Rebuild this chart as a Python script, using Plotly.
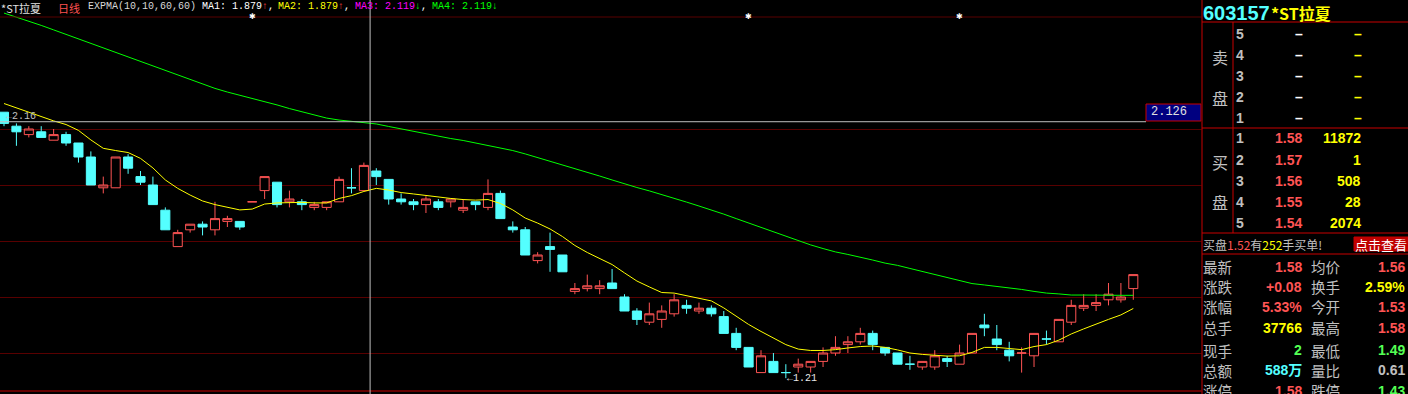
import plotly.graph_objects as go

W, H = 1408, 394

# ---------------- data ----------------
opens = [2.16, 2.11, 2.08, 2.09, 2.06, 2.08, 2.05, 2.00, 1.89, 1.89,
         2.00, 1.93, 1.90, 1.81, 1.68, 1.74, 1.76, 1.74, 1.77, 1.77,
         1.84, 1.88, 1.91, 1.84, 1.84, 1.82, 1.82, 1.84, 1.89, 1.88,
         1.95, 1.92, 1.85, 1.84, 1.83, 1.84, 1.84, 1.81, 1.84, 1.82,
         1.87, 1.75, 1.74, 1.63, 1.68, 1.65, 1.52, 1.53, 1.53, 1.55,
         1.50, 1.45, 1.41, 1.42, 1.44, 1.47, 1.45, 1.46, 1.43, 1.37,
         1.32, 1.23, 1.27, 1.23, 1.25, 1.25, 1.27, 1.30, 1.33, 1.34,
         1.37, 1.32, 1.30, 1.26, 1.25, 1.25, 1.28, 1.26, 1.30, 1.40,
         1.35, 1.31, 1.30, 1.29, 1.35, 1.34, 1.41, 1.46, 1.47, 1.49,
         1.49, 1.53]
highs = [2.16, 2.12, 2.11, 2.11, 2.10, 2.09, 2.05, 2.02, 1.93, 2.00,
         2.01, 1.95, 1.93, 1.82, 1.74, 1.76, 1.77, 1.84, 1.79, 1.77,
         1.84, 1.93, 1.91, 1.88, 1.85, 1.84, 1.84, 1.93, 1.96, 1.98,
         1.96, 1.92, 1.87, 1.85, 1.86, 1.85, 1.85, 1.85, 1.84, 1.92,
         1.88, 1.77, 1.75, 1.66, 1.73, 1.65, 1.55, 1.58, 1.56, 1.60,
         1.51, 1.46, 1.48, 1.47, 1.51, 1.49, 1.48, 1.47, 1.45, 1.39,
         1.32, 1.31, 1.30, 1.26, 1.28, 1.27, 1.32, 1.36, 1.36, 1.39,
         1.38, 1.32, 1.30, 1.29, 1.27, 1.31, 1.29, 1.33, 1.37, 1.44,
         1.40, 1.34, 1.32, 1.37, 1.38, 1.42, 1.49, 1.51, 1.51, 1.55,
         1.55, 1.58]
lows = [2.11, 2.04, 2.07, 2.07, 2.06, 2.04, 1.98, 1.90, 1.87, 1.89,
        1.94, 1.90, 1.83, 1.74, 1.68, 1.73, 1.72, 1.72, 1.75, 1.74,
        1.84, 1.85, 1.82, 1.82, 1.81, 1.81, 1.81, 1.84, 1.87, 1.88,
        1.90, 1.83, 1.83, 1.81, 1.80, 1.81, 1.82, 1.80, 1.81, 1.81,
        1.78, 1.73, 1.65, 1.62, 1.59, 1.59, 1.51, 1.52, 1.51, 1.53,
        1.45, 1.40, 1.40, 1.39, 1.43, 1.44, 1.44, 1.43, 1.37, 1.31,
        1.25, 1.23, 1.23, 1.21, 1.23, 1.23, 1.25, 1.29, 1.30, 1.33,
        1.31, 1.29, 1.26, 1.24, 1.24, 1.24, 1.25, 1.26, 1.30, 1.36,
        1.31, 1.27, 1.23, 1.25, 1.33, 1.34, 1.40, 1.45, 1.45, 1.47,
        1.48, 1.49]
closes = [2.12, 2.09, 2.10, 2.07, 2.08, 2.05, 2.00, 1.90, 1.90, 2.00,
          1.96, 1.91, 1.83, 1.74, 1.73, 1.76, 1.75, 1.78, 1.78, 1.75,
          1.84, 1.93, 1.83, 1.85, 1.83, 1.83, 1.84, 1.92, 1.89, 1.97,
          1.93, 1.85, 1.84, 1.83, 1.85, 1.82, 1.85, 1.82, 1.83, 1.87,
          1.78, 1.74, 1.65, 1.65, 1.67, 1.59, 1.53, 1.54, 1.54, 1.53,
          1.45, 1.42, 1.44, 1.45, 1.49, 1.46, 1.46, 1.44, 1.37, 1.32,
          1.25, 1.29, 1.23, 1.23, 1.26, 1.27, 1.30, 1.32, 1.34, 1.37,
          1.33, 1.30, 1.26, 1.26, 1.27, 1.29, 1.27, 1.30, 1.37, 1.39,
          1.33, 1.29, 1.30, 1.37, 1.35, 1.42, 1.47, 1.47, 1.48, 1.51,
          1.50, 1.58]
expma10 = [2.191, 2.175, 2.161, 2.145, 2.129, 2.116, 2.095, 2.061, 2.031, 2.023,
           2.016, 1.995, 1.961, 1.918, 1.888, 1.864, 1.843, 1.830, 1.821, 1.811,
           1.814, 1.832, 1.836, 1.838, 1.838, 1.836, 1.836, 1.852, 1.862, 1.877,
           1.888, 1.882, 1.873, 1.868, 1.862, 1.857, 1.852, 1.848, 1.846, 1.848,
           1.834, 1.811, 1.782, 1.764, 1.743, 1.716, 1.684, 1.659, 1.636, 1.616,
           1.586, 1.557, 1.536, 1.516, 1.514, 1.505, 1.496, 1.486, 1.461, 1.432,
           1.402, 1.377, 1.352, 1.330, 1.314, 1.309, 1.309, 1.312, 1.318, 1.323,
           1.325, 1.320, 1.311, 1.300, 1.295, 1.292, 1.289, 1.290, 1.302, 1.320,
           1.320, 1.316, 1.312, 1.323, 1.330, 1.346, 1.368, 1.386, 1.404, 1.420,
           1.436, 1.459]
expma60 = [2.514, 2.500, 2.486, 2.470, 2.454, 2.438, 2.421, 2.405, 2.389, 2.373,
           2.357, 2.341, 2.325, 2.309, 2.293, 2.277, 2.261, 2.245, 2.232, 2.221,
           2.209, 2.198, 2.186, 2.173, 2.161, 2.150, 2.139, 2.132, 2.127, 2.123,
           2.118, 2.109, 2.100, 2.091, 2.082, 2.073, 2.066, 2.059, 2.050, 2.041,
           2.032, 2.023, 2.011, 1.998, 1.986, 1.971, 1.959, 1.946, 1.932, 1.918,
           1.904, 1.891, 1.879, 1.866, 1.854, 1.839, 1.825, 1.811, 1.796, 1.780,
           1.764, 1.748, 1.732, 1.716, 1.700, 1.686, 1.673, 1.661, 1.652, 1.643,
           1.632, 1.621, 1.613, 1.602, 1.591, 1.579, 1.568, 1.557, 1.548, 1.543,
           1.538, 1.532, 1.527, 1.520, 1.514, 1.511, 1.507, 1.507, 1.506, 1.506,
           1.506, 1.506]
grid_prices = [1.3, 1.5, 1.7, 1.9, 2.1]
event_idx = [20, 60, 77]
cross_idx = 29.5
cross_price = 2.126
hi_idx, hi_price = 0, 2.16
lo_idx, lo_price = 63, 1.21

ask_levels = ["5", "4", "3", "2", "1"]
bid_levels = ["1", "2", "3", "4", "5"]
bid_prices = ["1.58", "1.57", "1.56", "1.55", "1.54"]
bid_vols = ["11872", "1", "508", "28", "2074"]

RED = "#ff5454"
CYAN = "#54ffff"
YEL = "#ffff00"
GRN = "#54ff54"
GRAY = "#c0c0c0"
LINE_RED = "#c80000"
GRID = "#580000"

stat_rows = [
    ("最新", "1.58", RED, "均价", "1.56", RED),
    ("涨跌", "+0.08", RED, "换手", "2.59%", YEL),
    ("涨幅", "5.33%", RED, "今开", "1.53", RED),
    ("总手", "37766", YEL, "最高", "1.58", RED),
    ("现手", "2", GRN, "最低", "1.49", GRN),
    ("总额", "588万", CYAN, "量比", "0.61", GRAY),
    ("涨停", "1.58", RED, "跌停", "1.43", GRN),
]

# ---------------- geometry ----------------
PLOT_RIGHT = 1202          # px, right edge of the K-line area
STEP = 12.41               # px per candle
X0 = 4                     # px centre of first candle
x_lo = -X0 / STEP
x_hi = x_lo + PLOT_RIGHT / STEP
# price <-> pixel: y = 129 + (2.1 - p) * 280
y_top = 2.1 + 129 / 280
y_bot = 2.1 - (H - 129) / 280


def px(x):
    return x / W


def py(y):
    return 1 - y / H


n = len(closes)
idx = list(range(n))


def is_up(i):
    if closes[i] > opens[i]:
        return True
    if closes[i] < opens[i]:
        return False
    return i > 0 and closes[i] > closes[i - 1]


up_ids = [i for i in idx if is_up(i)]
dn_ids = [i for i in idx if not is_up(i)]

fig = go.Figure()


def candles(ids, line_color, fill):
    st = dict(line=dict(color=line_color, width=1), fillcolor=fill)
    return go.Candlestick(
        x=ids,
        open=[opens[i] for i in ids], high=[highs[i] for i in ids],
        low=[lows[i] for i in ids], close=[closes[i] for i in ids],
        increasing=st, decreasing=st, whiskerwidth=0,
        showlegend=False, hoverinfo="skip")


fig.add_trace(candles(dn_ids, CYAN, CYAN))
fig.add_trace(candles(up_ids, RED, "#000000"))
fig.add_trace(go.Scatter(x=idx, y=expma60, mode="lines",
                         line=dict(color="#00ff00", width=1), showlegend=False, hoverinfo="skip"))
fig.add_trace(go.Scatter(x=idx, y=expma10, mode="lines",
                         line=dict(color="#ffff00", width=1), showlegend=False, hoverinfo="skip"))

shapes = []


def hline(y, x0, x1, color, width=1):
    shapes.append(dict(type="line", xref="paper", yref="paper", x0=px(x0), x1=px(x1),
                       y0=py(y), y1=py(y), line=dict(color=color, width=width)))


def vline(x, y0, y1, color, width=1):
    shapes.append(dict(type="line", xref="paper", yref="paper", x0=px(x), x1=px(x),
                       y0=py(y0), y1=py(y1), line=dict(color=color, width=width)))


def rect(x0, y0, x1, y1, fill, line=None):
    shapes.append(dict(type="rect", xref="paper", yref="paper", x0=px(x0), x1=px(x1),
                       y0=py(y1), y1=py(y0), fillcolor=fill,
                       line=dict(color=line or fill, width=1), layer="above"))


# frame lines of chart
hline(17, 0, PLOT_RIGHT, GRID)
hline(391, 0, PLOT_RIGHT, LINE_RED)
# crosshair
shapes.append(dict(type="line", xref="x", yref="paper", x0=cross_idx, x1=cross_idx, y0=0, y1=1,
                   line=dict(color=GRAY, width=1)))
shapes.append(dict(type="line", xref="paper", yref="y", x0=0, x1=px(1146), y0=cross_price, y1=cross_price,
                   line=dict(color=GRAY, width=1)))
rect(1146, 104, 1201, 121, "#000080", LINE_RED)

# right panel
rect(1202, 0, W, H, "#000000")
vline(1202, 0, H, LINE_RED)
hline(22, 1202, W, LINE_RED)
hline(128, 1202, W, LINE_RED)
hline(233, 1202, W, LINE_RED)
vline(1233, 22, 233, LINE_RED)
hline(254, 1202, W, LINE_RED)
rect(1354, 237, W, 251, "#c00000")

ann = []
MONO = "Liberation Mono, DejaVu Sans Mono, monospace"
CJK = "Noto Sans CJK SC, sans-serif"
NUM = "Liberation Sans, Arial, Noto Sans CJK SC, sans-serif"


def text(x, y, s, color, size, family=CJK, anchor="left"):
    ann.append(dict(x=px(x), y=py(y), xref="paper", yref="paper", text=s, showarrow=False,
                    xanchor=anchor, yanchor="middle", font=dict(color=color, size=size, family=family),
                    borderpad=0))


# header of K-line chart
text(0, 8, "*ST拉夏", "#e0e0e0", 11)
text(57, 8, "日线", "#ff5050", 11)
text(87, 7, "EXPMA(10,10,60,60)", "#d8d8d8", 10, MONO)
text(201, 7, "MA1: 1.879<span style='color:#ff4040'>↑</span>,", "#ffffff", 10, MONO)
text(277, 7, "MA2: 1.879<span style='color:#ff4040'>↑</span><span style='color:#ffffff'>,</span>", YEL, 10, MONO)
text(354, 7, "MA3: 2.119<span style='color:#00ff00'>↓</span><span style='color:#ffffff'>,</span>", "#ff00ff", 10, MONO)
text(431, 7, "MA4: 2.119<span style='color:#00ff00'>↓</span>", "#00ff00", 10, MONO)

for e in event_idx:
    ann.append(dict(x=e, y=py(16), xref="x", yref="paper", text="✱", showarrow=False,
                    xanchor="center", yanchor="middle", font=dict(color="#ffffff", size=8,
                                                                  family="DejaVu Sans")))

ann.append(dict(x=hi_idx, y=hi_price, xref="x", yref="y", text="←" + f"{hi_price:.2f}", showarrow=False,
                xanchor="left", yanchor="middle", xshift=0, yshift=-4,
                font=dict(color=GRAY, size=10, family=MONO)))
ann.append(dict(x=lo_idx, y=lo_price, xref="x", yref="y", text="←" + f"{lo_price:.2f}", showarrow=False,
                xanchor="left", yanchor="middle", xshift=-1,
                font=dict(color="#e8e8e8", size=10, family=MONO)))
ann.append(dict(x=px(1149), y=cross_price, xref="paper", yref="y", text=f"{cross_price:.3f}",
                showarrow=False, xanchor="left", yanchor="bottom", yshift=1,
                font=dict(color="#e0e0e0", size=12, family=MONO)))

# right panel texts
text(1202, 12.5, "<b>603157</b>", CYAN, 20, NUM)
text(1270, 13, "<b>*ST拉夏</b>", YEL, 16, CJK)
text(1220, 57, "卖", GRAY, 16, CJK, "center")
text(1220, 98, "盘", GRAY, 16, CJK, "center")
text(1220, 162, "买", GRAY, 16, CJK, "center")
text(1220, 202, "盘", GRAY, 16, CJK, "center")
ask_y = [33.7, 55, 76.3, 97.3, 118]
bid_y = [138.3, 160, 181, 202, 223]
for lv, y in zip(ask_levels, ask_y):
    text(1235, y, f"<b>{lv}</b>", GRAY, 14, NUM)
    text(1304, y, "<b>–</b>", "#ffffff", 14, NUM, "right")
    text(1363, y, "<b>–</b>", YEL, 14, NUM, "right")
for lv, pr, vo, y in zip(bid_levels, bid_prices, bid_vols, bid_y):
    text(1235, y, f"<b>{lv}</b>", GRAY, 14, NUM)
    text(1303, y, f"<b>{pr}</b>", RED, 14, NUM, "right")
    text(1362, y, f"<b>{vo}</b>", YEL, 14, NUM, "right")

text(1202, 244, "买盘<span style='color:#ff5454'>1.52</span>有<span style='color:#ffff00'>252</span>手买单!",
     GRAY, 12, CJK)
text(1381, 244, "点击查看", "#ffffff", 13, CJK, "center")

stat_y = [266.5, 286.7, 306.7, 327.5, 350, 370, 390.5]
for (l1, v1, c1, l2, v2, c2), y in zip(stat_rows, stat_y):
    text(1202, y, l1, GRAY, 14.5, CJK)
    text(1303, y, f"<b>{v1}</b>", c1, 14, NUM, "right")
    text(1310, y, l2, GRAY, 14.5, CJK)
    text(1406, y, f"<b>{v2}</b>", c2, 14, NUM, "right")

fig.update_layout(
    width=W, height=H, margin=dict(l=0, r=0, t=0, b=0),
    paper_bgcolor="#000000", plot_bgcolor="#000000",
    showlegend=False, boxgap=0.27, boxgroupgap=0,
    shapes=shapes, annotations=ann,
    xaxis=dict(domain=[0, px(PLOT_RIGHT)], range=[x_lo, x_hi], showgrid=False, zeroline=False,
               showticklabels=False, ticks="", rangeslider=dict(visible=False), fixedrange=True),
    yaxis=dict(domain=[0, 1], range=[y_bot, y_top], tickvals=grid_prices, showticklabels=False,
               gridcolor=GRID, gridwidth=1, zeroline=False, ticks="", fixedrange=True),
)

fig.write_html("out.html")
